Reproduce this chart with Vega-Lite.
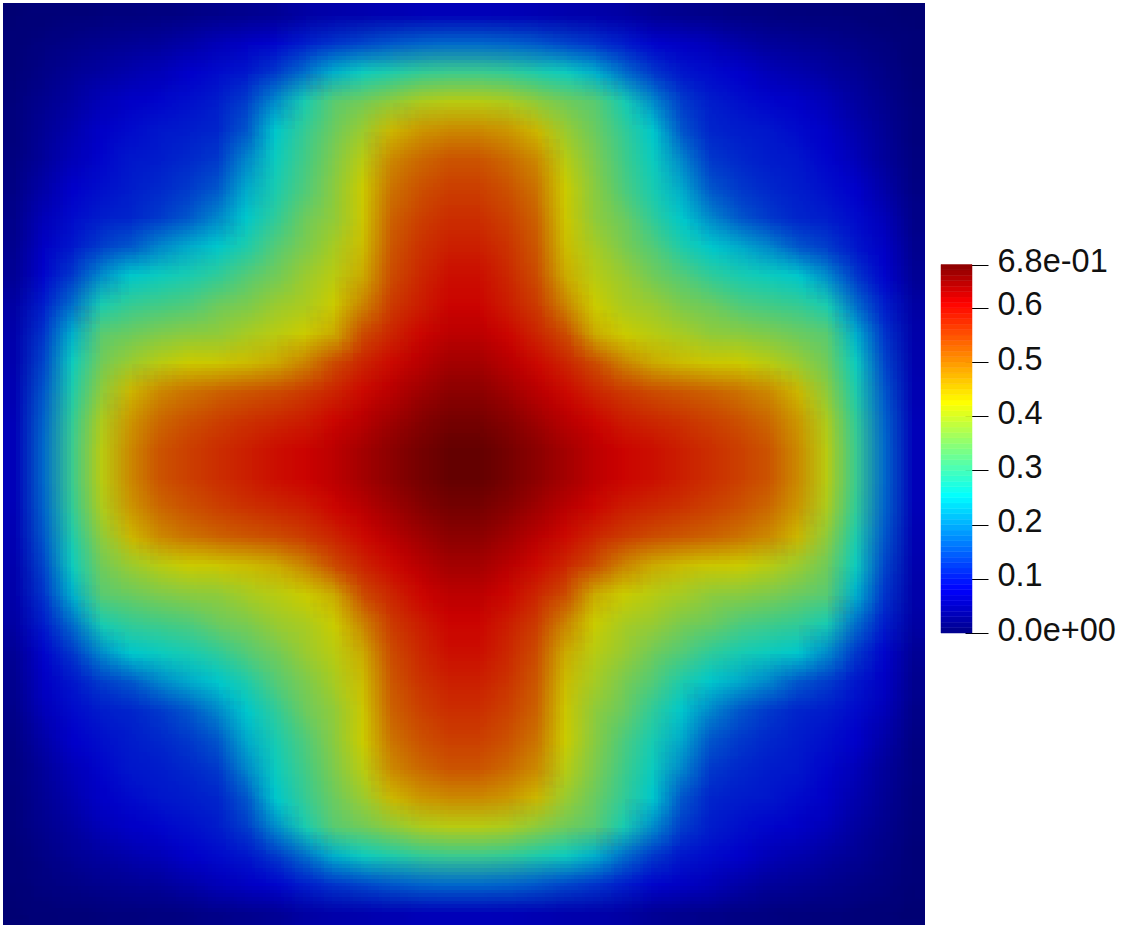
{"$schema":"https://vega.github.io/schema/vega-lite/v6.json","padding":{"left":3,"top":3,"right":0,"bottom":0},"background":"white","config":{"view":{"stroke":null}},"spacing":15,"resolve":{"scale":{"color":"independent","stroke":"independent"}},"hconcat":[{"width":922,"height":922,"data":{"values":[
{"x":1,"y":1,"v":0.002},{"x":2,"y":1,"v":0.004},{"x":3,"y":1,"v":0.006},{"x":4,"y":1,"v":0.008},{"x":5,"y":1,"v":0.01},{"x":6,"y":1,"v":0.012},{"x":7,"y":1,"v":0.015},{"x":8,"y":1,"v":0.02},{"x":9,"y":1,"v":0.025},{"x":10,"y":1,"v":0.03},{"x":11,"y":1,"v":0.042},{"x":12,"y":1,"v":0.048},{"x":13,"y":1,"v":0.05},{"x":14,"y":1,"v":0.055},{"x":15,"y":1,"v":0.058},{"x":16,"y":1,"v":0.06},{"x":17,"y":1,"v":0.06},{"x":18,"y":1,"v":0.058},{"x":19,"y":1,"v":0.055},{"x":20,"y":1,"v":0.05},{"x":21,"y":1,"v":0.048},{"x":22,"y":1,"v":0.042},{"x":23,"y":1,"v":0.03},{"x":24,"y":1,"v":0.025},{"x":25,"y":1,"v":0.02},{"x":26,"y":1,"v":0.015},{"x":27,"y":1,"v":0.012},{"x":28,"y":1,"v":0.01},{"x":29,"y":1,"v":0.008},{"x":30,"y":1,"v":0.006},{"x":31,"y":1,"v":0.004},{"x":32,"y":1,"v":0.002},
{"x":1,"y":2,"v":0.004},{"x":2,"y":2,"v":0.012},{"x":3,"y":2,"v":0.018},{"x":4,"y":2,"v":0.025},{"x":5,"y":2,"v":0.03},{"x":6,"y":2,"v":0.035},{"x":7,"y":2,"v":0.045},{"x":8,"y":2,"v":0.06},{"x":9,"y":2,"v":0.07},{"x":10,"y":2,"v":0.08},{"x":11,"y":2,"v":0.1},{"x":12,"y":2,"v":0.12},{"x":13,"y":2,"v":0.135},{"x":14,"y":2,"v":0.15},{"x":15,"y":2,"v":0.16},{"x":16,"y":2,"v":0.165},{"x":17,"y":2,"v":0.165},{"x":18,"y":2,"v":0.16},{"x":19,"y":2,"v":0.15},{"x":20,"y":2,"v":0.135},{"x":21,"y":2,"v":0.12},{"x":22,"y":2,"v":0.1},{"x":23,"y":2,"v":0.08},{"x":24,"y":2,"v":0.07},{"x":25,"y":2,"v":0.06},{"x":26,"y":2,"v":0.045},{"x":27,"y":2,"v":0.035},{"x":28,"y":2,"v":0.03},{"x":29,"y":2,"v":0.025},{"x":30,"y":2,"v":0.018},{"x":31,"y":2,"v":0.012},{"x":32,"y":2,"v":0.004},
{"x":1,"y":3,"v":0.006},{"x":2,"y":3,"v":0.018},{"x":3,"y":3,"v":0.03},{"x":4,"y":3,"v":0.04},{"x":5,"y":3,"v":0.05},{"x":6,"y":3,"v":0.06},{"x":7,"y":3,"v":0.075},{"x":8,"y":3,"v":0.085},{"x":9,"y":3,"v":0.095},{"x":10,"y":3,"v":0.125},{"x":11,"y":3,"v":0.17},{"x":12,"y":3,"v":0.225},{"x":13,"y":3,"v":0.26},{"x":14,"y":3,"v":0.275},{"x":15,"y":3,"v":0.292},{"x":16,"y":3,"v":0.3},{"x":17,"y":3,"v":0.3},{"x":18,"y":3,"v":0.292},{"x":19,"y":3,"v":0.275},{"x":20,"y":3,"v":0.26},{"x":21,"y":3,"v":0.225},{"x":22,"y":3,"v":0.17},{"x":23,"y":3,"v":0.125},{"x":24,"y":3,"v":0.095},{"x":25,"y":3,"v":0.085},{"x":26,"y":3,"v":0.075},{"x":27,"y":3,"v":0.06},{"x":28,"y":3,"v":0.05},{"x":29,"y":3,"v":0.04},{"x":30,"y":3,"v":0.03},{"x":31,"y":3,"v":0.018},{"x":32,"y":3,"v":0.006},
{"x":1,"y":4,"v":0.008},{"x":2,"y":4,"v":0.025},{"x":3,"y":4,"v":0.04},{"x":4,"y":4,"v":0.06},{"x":5,"y":4,"v":0.072},{"x":6,"y":4,"v":0.08},{"x":7,"y":4,"v":0.09},{"x":8,"y":4,"v":0.1},{"x":9,"y":4,"v":0.128},{"x":10,"y":4,"v":0.195},{"x":11,"y":4,"v":0.27},{"x":12,"y":4,"v":0.325},{"x":13,"y":4,"v":0.345},{"x":14,"y":4,"v":0.37},{"x":15,"y":4,"v":0.395},{"x":16,"y":4,"v":0.405},{"x":17,"y":4,"v":0.405},{"x":18,"y":4,"v":0.395},{"x":19,"y":4,"v":0.37},{"x":20,"y":4,"v":0.345},{"x":21,"y":4,"v":0.325},{"x":22,"y":4,"v":0.27},{"x":23,"y":4,"v":0.195},{"x":24,"y":4,"v":0.128},{"x":25,"y":4,"v":0.1},{"x":26,"y":4,"v":0.09},{"x":27,"y":4,"v":0.08},{"x":28,"y":4,"v":0.072},{"x":29,"y":4,"v":0.06},{"x":30,"y":4,"v":0.04},{"x":31,"y":4,"v":0.025},{"x":32,"y":4,"v":0.008},
{"x":1,"y":5,"v":0.01},{"x":2,"y":5,"v":0.03},{"x":3,"y":5,"v":0.05},{"x":4,"y":5,"v":0.072},{"x":5,"y":5,"v":0.085},{"x":6,"y":5,"v":0.095},{"x":7,"y":5,"v":0.1},{"x":8,"y":5,"v":0.108},{"x":9,"y":5,"v":0.15},{"x":10,"y":5,"v":0.245},{"x":11,"y":5,"v":0.293},{"x":12,"y":5,"v":0.34},{"x":13,"y":5,"v":0.38},{"x":14,"y":5,"v":0.44},{"x":15,"y":5,"v":0.468},{"x":16,"y":5,"v":0.48},{"x":17,"y":5,"v":0.48},{"x":18,"y":5,"v":0.468},{"x":19,"y":5,"v":0.44},{"x":20,"y":5,"v":0.38},{"x":21,"y":5,"v":0.34},{"x":22,"y":5,"v":0.293},{"x":23,"y":5,"v":0.245},{"x":24,"y":5,"v":0.15},{"x":25,"y":5,"v":0.108},{"x":26,"y":5,"v":0.1},{"x":27,"y":5,"v":0.095},{"x":28,"y":5,"v":0.085},{"x":29,"y":5,"v":0.072},{"x":30,"y":5,"v":0.05},{"x":31,"y":5,"v":0.03},{"x":32,"y":5,"v":0.01},
{"x":1,"y":6,"v":0.012},{"x":2,"y":6,"v":0.035},{"x":3,"y":6,"v":0.06},{"x":4,"y":6,"v":0.08},{"x":5,"y":6,"v":0.095},{"x":6,"y":6,"v":0.1},{"x":7,"y":6,"v":0.11},{"x":8,"y":6,"v":0.125},{"x":9,"y":6,"v":0.19},{"x":10,"y":6,"v":0.258},{"x":11,"y":6,"v":0.305},{"x":12,"y":6,"v":0.355},{"x":13,"y":6,"v":0.405},{"x":14,"y":6,"v":0.48},{"x":15,"y":6,"v":0.51},{"x":16,"y":6,"v":0.528},{"x":17,"y":6,"v":0.528},{"x":18,"y":6,"v":0.51},{"x":19,"y":6,"v":0.48},{"x":20,"y":6,"v":0.405},{"x":21,"y":6,"v":0.355},{"x":22,"y":6,"v":0.305},{"x":23,"y":6,"v":0.258},{"x":24,"y":6,"v":0.19},{"x":25,"y":6,"v":0.125},{"x":26,"y":6,"v":0.11},{"x":27,"y":6,"v":0.1},{"x":28,"y":6,"v":0.095},{"x":29,"y":6,"v":0.08},{"x":30,"y":6,"v":0.06},{"x":31,"y":6,"v":0.035},{"x":32,"y":6,"v":0.012},
{"x":1,"y":7,"v":0.015},{"x":2,"y":7,"v":0.045},{"x":3,"y":7,"v":0.075},{"x":4,"y":7,"v":0.09},{"x":5,"y":7,"v":0.1},{"x":6,"y":7,"v":0.11},{"x":7,"y":7,"v":0.125},{"x":8,"y":7,"v":0.15},{"x":9,"y":7,"v":0.22},{"x":10,"y":7,"v":0.27},{"x":11,"y":7,"v":0.316},{"x":12,"y":7,"v":0.365},{"x":13,"y":7,"v":0.42},{"x":14,"y":7,"v":0.5},{"x":15,"y":7,"v":0.53},{"x":16,"y":7,"v":0.547},{"x":17,"y":7,"v":0.547},{"x":18,"y":7,"v":0.53},{"x":19,"y":7,"v":0.5},{"x":20,"y":7,"v":0.42},{"x":21,"y":7,"v":0.365},{"x":22,"y":7,"v":0.316},{"x":23,"y":7,"v":0.27},{"x":24,"y":7,"v":0.22},{"x":25,"y":7,"v":0.15},{"x":26,"y":7,"v":0.125},{"x":27,"y":7,"v":0.11},{"x":28,"y":7,"v":0.1},{"x":29,"y":7,"v":0.09},{"x":30,"y":7,"v":0.075},{"x":31,"y":7,"v":0.045},{"x":32,"y":7,"v":0.015},
{"x":1,"y":8,"v":0.02},{"x":2,"y":8,"v":0.06},{"x":3,"y":8,"v":0.085},{"x":4,"y":8,"v":0.1},{"x":5,"y":8,"v":0.108},{"x":6,"y":8,"v":0.125},{"x":7,"y":8,"v":0.15},{"x":8,"y":8,"v":0.19},{"x":9,"y":8,"v":0.245},{"x":10,"y":8,"v":0.29},{"x":11,"y":8,"v":0.34},{"x":12,"y":8,"v":0.37},{"x":13,"y":8,"v":0.425},{"x":14,"y":8,"v":0.515},{"x":15,"y":8,"v":0.545},{"x":16,"y":8,"v":0.562},{"x":17,"y":8,"v":0.562},{"x":18,"y":8,"v":0.545},{"x":19,"y":8,"v":0.515},{"x":20,"y":8,"v":0.425},{"x":21,"y":8,"v":0.37},{"x":22,"y":8,"v":0.34},{"x":23,"y":8,"v":0.29},{"x":24,"y":8,"v":0.245},{"x":25,"y":8,"v":0.19},{"x":26,"y":8,"v":0.15},{"x":27,"y":8,"v":0.125},{"x":28,"y":8,"v":0.108},{"x":29,"y":8,"v":0.1},{"x":30,"y":8,"v":0.085},{"x":31,"y":8,"v":0.06},{"x":32,"y":8,"v":0.02},
{"x":1,"y":9,"v":0.025},{"x":2,"y":9,"v":0.07},{"x":3,"y":9,"v":0.095},{"x":4,"y":9,"v":0.128},{"x":5,"y":9,"v":0.15},{"x":6,"y":9,"v":0.19},{"x":7,"y":9,"v":0.22},{"x":8,"y":9,"v":0.245},{"x":9,"y":9,"v":0.275},{"x":10,"y":9,"v":0.32},{"x":11,"y":9,"v":0.353},{"x":12,"y":9,"v":0.39},{"x":13,"y":9,"v":0.435},{"x":14,"y":9,"v":0.525},{"x":15,"y":9,"v":0.557},{"x":16,"y":9,"v":0.575},{"x":17,"y":9,"v":0.575},{"x":18,"y":9,"v":0.557},{"x":19,"y":9,"v":0.525},{"x":20,"y":9,"v":0.435},{"x":21,"y":9,"v":0.39},{"x":22,"y":9,"v":0.353},{"x":23,"y":9,"v":0.32},{"x":24,"y":9,"v":0.275},{"x":25,"y":9,"v":0.245},{"x":26,"y":9,"v":0.22},{"x":27,"y":9,"v":0.19},{"x":28,"y":9,"v":0.15},{"x":29,"y":9,"v":0.128},{"x":30,"y":9,"v":0.095},{"x":31,"y":9,"v":0.07},{"x":32,"y":9,"v":0.025},
{"x":1,"y":10,"v":0.03},{"x":2,"y":10,"v":0.08},{"x":3,"y":10,"v":0.125},{"x":4,"y":10,"v":0.195},{"x":5,"y":10,"v":0.245},{"x":6,"y":10,"v":0.258},{"x":7,"y":10,"v":0.27},{"x":8,"y":10,"v":0.29},{"x":9,"y":10,"v":0.32},{"x":10,"y":10,"v":0.345},{"x":11,"y":10,"v":0.378},{"x":12,"y":10,"v":0.405},{"x":13,"y":10,"v":0.45},{"x":14,"y":10,"v":0.535},{"x":15,"y":10,"v":0.568},{"x":16,"y":10,"v":0.59},{"x":17,"y":10,"v":0.59},{"x":18,"y":10,"v":0.568},{"x":19,"y":10,"v":0.535},{"x":20,"y":10,"v":0.45},{"x":21,"y":10,"v":0.405},{"x":22,"y":10,"v":0.378},{"x":23,"y":10,"v":0.345},{"x":24,"y":10,"v":0.32},{"x":25,"y":10,"v":0.29},{"x":26,"y":10,"v":0.27},{"x":27,"y":10,"v":0.258},{"x":28,"y":10,"v":0.245},{"x":29,"y":10,"v":0.195},{"x":30,"y":10,"v":0.125},{"x":31,"y":10,"v":0.08},{"x":32,"y":10,"v":0.03},
{"x":1,"y":11,"v":0.042},{"x":2,"y":11,"v":0.1},{"x":3,"y":11,"v":0.17},{"x":4,"y":11,"v":0.27},{"x":5,"y":11,"v":0.293},{"x":6,"y":11,"v":0.305},{"x":7,"y":11,"v":0.316},{"x":8,"y":11,"v":0.34},{"x":9,"y":11,"v":0.353},{"x":10,"y":11,"v":0.378},{"x":11,"y":11,"v":0.393},{"x":12,"y":11,"v":0.42},{"x":13,"y":11,"v":0.485},{"x":14,"y":11,"v":0.55},{"x":15,"y":11,"v":0.578},{"x":16,"y":11,"v":0.6},{"x":17,"y":11,"v":0.6},{"x":18,"y":11,"v":0.578},{"x":19,"y":11,"v":0.55},{"x":20,"y":11,"v":0.485},{"x":21,"y":11,"v":0.42},{"x":22,"y":11,"v":0.393},{"x":23,"y":11,"v":0.378},{"x":24,"y":11,"v":0.353},{"x":25,"y":11,"v":0.34},{"x":26,"y":11,"v":0.316},{"x":27,"y":11,"v":0.305},{"x":28,"y":11,"v":0.293},{"x":29,"y":11,"v":0.27},{"x":30,"y":11,"v":0.17},{"x":31,"y":11,"v":0.1},{"x":32,"y":11,"v":0.042},
{"x":1,"y":12,"v":0.048},{"x":2,"y":12,"v":0.12},{"x":3,"y":12,"v":0.225},{"x":4,"y":12,"v":0.325},{"x":5,"y":12,"v":0.34},{"x":6,"y":12,"v":0.355},{"x":7,"y":12,"v":0.365},{"x":8,"y":12,"v":0.37},{"x":9,"y":12,"v":0.39},{"x":10,"y":12,"v":0.405},{"x":11,"y":12,"v":0.42},{"x":12,"y":12,"v":0.45},{"x":13,"y":12,"v":0.535},{"x":14,"y":12,"v":0.57},{"x":15,"y":12,"v":0.598},{"x":16,"y":12,"v":0.616},{"x":17,"y":12,"v":0.616},{"x":18,"y":12,"v":0.598},{"x":19,"y":12,"v":0.57},{"x":20,"y":12,"v":0.535},{"x":21,"y":12,"v":0.45},{"x":22,"y":12,"v":0.42},{"x":23,"y":12,"v":0.405},{"x":24,"y":12,"v":0.39},{"x":25,"y":12,"v":0.37},{"x":26,"y":12,"v":0.365},{"x":27,"y":12,"v":0.355},{"x":28,"y":12,"v":0.34},{"x":29,"y":12,"v":0.325},{"x":30,"y":12,"v":0.225},{"x":31,"y":12,"v":0.12},{"x":32,"y":12,"v":0.048},
{"x":1,"y":13,"v":0.05},{"x":2,"y":13,"v":0.135},{"x":3,"y":13,"v":0.26},{"x":4,"y":13,"v":0.345},{"x":5,"y":13,"v":0.38},{"x":6,"y":13,"v":0.405},{"x":7,"y":13,"v":0.42},{"x":8,"y":13,"v":0.425},{"x":9,"y":13,"v":0.435},{"x":10,"y":13,"v":0.45},{"x":11,"y":13,"v":0.485},{"x":12,"y":13,"v":0.535},{"x":13,"y":13,"v":0.57},{"x":14,"y":13,"v":0.595},{"x":15,"y":13,"v":0.617},{"x":16,"y":13,"v":0.633},{"x":17,"y":13,"v":0.633},{"x":18,"y":13,"v":0.617},{"x":19,"y":13,"v":0.595},{"x":20,"y":13,"v":0.57},{"x":21,"y":13,"v":0.535},{"x":22,"y":13,"v":0.485},{"x":23,"y":13,"v":0.45},{"x":24,"y":13,"v":0.435},{"x":25,"y":13,"v":0.425},{"x":26,"y":13,"v":0.42},{"x":27,"y":13,"v":0.405},{"x":28,"y":13,"v":0.38},{"x":29,"y":13,"v":0.345},{"x":30,"y":13,"v":0.26},{"x":31,"y":13,"v":0.135},{"x":32,"y":13,"v":0.05},
{"x":1,"y":14,"v":0.055},{"x":2,"y":14,"v":0.15},{"x":3,"y":14,"v":0.275},{"x":4,"y":14,"v":0.37},{"x":5,"y":14,"v":0.44},{"x":6,"y":14,"v":0.48},{"x":7,"y":14,"v":0.5},{"x":8,"y":14,"v":0.515},{"x":9,"y":14,"v":0.525},{"x":10,"y":14,"v":0.535},{"x":11,"y":14,"v":0.55},{"x":12,"y":14,"v":0.57},{"x":13,"y":14,"v":0.595},{"x":14,"y":14,"v":0.617},{"x":15,"y":14,"v":0.637},{"x":16,"y":14,"v":0.652},{"x":17,"y":14,"v":0.652},{"x":18,"y":14,"v":0.637},{"x":19,"y":14,"v":0.617},{"x":20,"y":14,"v":0.595},{"x":21,"y":14,"v":0.57},{"x":22,"y":14,"v":0.55},{"x":23,"y":14,"v":0.535},{"x":24,"y":14,"v":0.525},{"x":25,"y":14,"v":0.515},{"x":26,"y":14,"v":0.5},{"x":27,"y":14,"v":0.48},{"x":28,"y":14,"v":0.44},{"x":29,"y":14,"v":0.37},{"x":30,"y":14,"v":0.275},{"x":31,"y":14,"v":0.15},{"x":32,"y":14,"v":0.055},
{"x":1,"y":15,"v":0.058},{"x":2,"y":15,"v":0.16},{"x":3,"y":15,"v":0.292},{"x":4,"y":15,"v":0.395},{"x":5,"y":15,"v":0.468},{"x":6,"y":15,"v":0.51},{"x":7,"y":15,"v":0.53},{"x":8,"y":15,"v":0.545},{"x":9,"y":15,"v":0.557},{"x":10,"y":15,"v":0.568},{"x":11,"y":15,"v":0.578},{"x":12,"y":15,"v":0.598},{"x":13,"y":15,"v":0.617},{"x":14,"y":15,"v":0.637},{"x":15,"y":15,"v":0.655},{"x":16,"y":15,"v":0.668},{"x":17,"y":15,"v":0.668},{"x":18,"y":15,"v":0.655},{"x":19,"y":15,"v":0.637},{"x":20,"y":15,"v":0.617},{"x":21,"y":15,"v":0.598},{"x":22,"y":15,"v":0.578},{"x":23,"y":15,"v":0.568},{"x":24,"y":15,"v":0.557},{"x":25,"y":15,"v":0.545},{"x":26,"y":15,"v":0.53},{"x":27,"y":15,"v":0.51},{"x":28,"y":15,"v":0.468},{"x":29,"y":15,"v":0.395},{"x":30,"y":15,"v":0.292},{"x":31,"y":15,"v":0.16},{"x":32,"y":15,"v":0.058},
{"x":1,"y":16,"v":0.06},{"x":2,"y":16,"v":0.165},{"x":3,"y":16,"v":0.3},{"x":4,"y":16,"v":0.405},{"x":5,"y":16,"v":0.48},{"x":6,"y":16,"v":0.528},{"x":7,"y":16,"v":0.547},{"x":8,"y":16,"v":0.562},{"x":9,"y":16,"v":0.575},{"x":10,"y":16,"v":0.59},{"x":11,"y":16,"v":0.6},{"x":12,"y":16,"v":0.616},{"x":13,"y":16,"v":0.633},{"x":14,"y":16,"v":0.652},{"x":15,"y":16,"v":0.668},{"x":16,"y":16,"v":0.68},{"x":17,"y":16,"v":0.68},{"x":18,"y":16,"v":0.668},{"x":19,"y":16,"v":0.652},{"x":20,"y":16,"v":0.633},{"x":21,"y":16,"v":0.616},{"x":22,"y":16,"v":0.6},{"x":23,"y":16,"v":0.59},{"x":24,"y":16,"v":0.575},{"x":25,"y":16,"v":0.562},{"x":26,"y":16,"v":0.547},{"x":27,"y":16,"v":0.528},{"x":28,"y":16,"v":0.48},{"x":29,"y":16,"v":0.405},{"x":30,"y":16,"v":0.3},{"x":31,"y":16,"v":0.165},{"x":32,"y":16,"v":0.06},
{"x":1,"y":17,"v":0.06},{"x":2,"y":17,"v":0.165},{"x":3,"y":17,"v":0.3},{"x":4,"y":17,"v":0.405},{"x":5,"y":17,"v":0.48},{"x":6,"y":17,"v":0.528},{"x":7,"y":17,"v":0.547},{"x":8,"y":17,"v":0.562},{"x":9,"y":17,"v":0.575},{"x":10,"y":17,"v":0.59},{"x":11,"y":17,"v":0.6},{"x":12,"y":17,"v":0.616},{"x":13,"y":17,"v":0.633},{"x":14,"y":17,"v":0.652},{"x":15,"y":17,"v":0.668},{"x":16,"y":17,"v":0.68},{"x":17,"y":17,"v":0.68},{"x":18,"y":17,"v":0.668},{"x":19,"y":17,"v":0.652},{"x":20,"y":17,"v":0.633},{"x":21,"y":17,"v":0.616},{"x":22,"y":17,"v":0.6},{"x":23,"y":17,"v":0.59},{"x":24,"y":17,"v":0.575},{"x":25,"y":17,"v":0.562},{"x":26,"y":17,"v":0.547},{"x":27,"y":17,"v":0.528},{"x":28,"y":17,"v":0.48},{"x":29,"y":17,"v":0.405},{"x":30,"y":17,"v":0.3},{"x":31,"y":17,"v":0.165},{"x":32,"y":17,"v":0.06},
{"x":1,"y":18,"v":0.058},{"x":2,"y":18,"v":0.16},{"x":3,"y":18,"v":0.292},{"x":4,"y":18,"v":0.395},{"x":5,"y":18,"v":0.468},{"x":6,"y":18,"v":0.51},{"x":7,"y":18,"v":0.53},{"x":8,"y":18,"v":0.545},{"x":9,"y":18,"v":0.557},{"x":10,"y":18,"v":0.568},{"x":11,"y":18,"v":0.578},{"x":12,"y":18,"v":0.598},{"x":13,"y":18,"v":0.617},{"x":14,"y":18,"v":0.637},{"x":15,"y":18,"v":0.655},{"x":16,"y":18,"v":0.668},{"x":17,"y":18,"v":0.668},{"x":18,"y":18,"v":0.655},{"x":19,"y":18,"v":0.637},{"x":20,"y":18,"v":0.617},{"x":21,"y":18,"v":0.598},{"x":22,"y":18,"v":0.578},{"x":23,"y":18,"v":0.568},{"x":24,"y":18,"v":0.557},{"x":25,"y":18,"v":0.545},{"x":26,"y":18,"v":0.53},{"x":27,"y":18,"v":0.51},{"x":28,"y":18,"v":0.468},{"x":29,"y":18,"v":0.395},{"x":30,"y":18,"v":0.292},{"x":31,"y":18,"v":0.16},{"x":32,"y":18,"v":0.058},
{"x":1,"y":19,"v":0.055},{"x":2,"y":19,"v":0.15},{"x":3,"y":19,"v":0.275},{"x":4,"y":19,"v":0.37},{"x":5,"y":19,"v":0.44},{"x":6,"y":19,"v":0.48},{"x":7,"y":19,"v":0.5},{"x":8,"y":19,"v":0.515},{"x":9,"y":19,"v":0.525},{"x":10,"y":19,"v":0.535},{"x":11,"y":19,"v":0.55},{"x":12,"y":19,"v":0.57},{"x":13,"y":19,"v":0.595},{"x":14,"y":19,"v":0.617},{"x":15,"y":19,"v":0.637},{"x":16,"y":19,"v":0.652},{"x":17,"y":19,"v":0.652},{"x":18,"y":19,"v":0.637},{"x":19,"y":19,"v":0.617},{"x":20,"y":19,"v":0.595},{"x":21,"y":19,"v":0.57},{"x":22,"y":19,"v":0.55},{"x":23,"y":19,"v":0.535},{"x":24,"y":19,"v":0.525},{"x":25,"y":19,"v":0.515},{"x":26,"y":19,"v":0.5},{"x":27,"y":19,"v":0.48},{"x":28,"y":19,"v":0.44},{"x":29,"y":19,"v":0.37},{"x":30,"y":19,"v":0.275},{"x":31,"y":19,"v":0.15},{"x":32,"y":19,"v":0.055},
{"x":1,"y":20,"v":0.05},{"x":2,"y":20,"v":0.135},{"x":3,"y":20,"v":0.26},{"x":4,"y":20,"v":0.345},{"x":5,"y":20,"v":0.38},{"x":6,"y":20,"v":0.405},{"x":7,"y":20,"v":0.42},{"x":8,"y":20,"v":0.425},{"x":9,"y":20,"v":0.435},{"x":10,"y":20,"v":0.45},{"x":11,"y":20,"v":0.485},{"x":12,"y":20,"v":0.535},{"x":13,"y":20,"v":0.57},{"x":14,"y":20,"v":0.595},{"x":15,"y":20,"v":0.617},{"x":16,"y":20,"v":0.633},{"x":17,"y":20,"v":0.633},{"x":18,"y":20,"v":0.617},{"x":19,"y":20,"v":0.595},{"x":20,"y":20,"v":0.57},{"x":21,"y":20,"v":0.535},{"x":22,"y":20,"v":0.485},{"x":23,"y":20,"v":0.45},{"x":24,"y":20,"v":0.435},{"x":25,"y":20,"v":0.425},{"x":26,"y":20,"v":0.42},{"x":27,"y":20,"v":0.405},{"x":28,"y":20,"v":0.38},{"x":29,"y":20,"v":0.345},{"x":30,"y":20,"v":0.26},{"x":31,"y":20,"v":0.135},{"x":32,"y":20,"v":0.05},
{"x":1,"y":21,"v":0.048},{"x":2,"y":21,"v":0.12},{"x":3,"y":21,"v":0.225},{"x":4,"y":21,"v":0.325},{"x":5,"y":21,"v":0.34},{"x":6,"y":21,"v":0.355},{"x":7,"y":21,"v":0.365},{"x":8,"y":21,"v":0.37},{"x":9,"y":21,"v":0.39},{"x":10,"y":21,"v":0.405},{"x":11,"y":21,"v":0.42},{"x":12,"y":21,"v":0.45},{"x":13,"y":21,"v":0.535},{"x":14,"y":21,"v":0.57},{"x":15,"y":21,"v":0.598},{"x":16,"y":21,"v":0.616},{"x":17,"y":21,"v":0.616},{"x":18,"y":21,"v":0.598},{"x":19,"y":21,"v":0.57},{"x":20,"y":21,"v":0.535},{"x":21,"y":21,"v":0.45},{"x":22,"y":21,"v":0.42},{"x":23,"y":21,"v":0.405},{"x":24,"y":21,"v":0.39},{"x":25,"y":21,"v":0.37},{"x":26,"y":21,"v":0.365},{"x":27,"y":21,"v":0.355},{"x":28,"y":21,"v":0.34},{"x":29,"y":21,"v":0.325},{"x":30,"y":21,"v":0.225},{"x":31,"y":21,"v":0.12},{"x":32,"y":21,"v":0.048},
{"x":1,"y":22,"v":0.042},{"x":2,"y":22,"v":0.1},{"x":3,"y":22,"v":0.17},{"x":4,"y":22,"v":0.27},{"x":5,"y":22,"v":0.293},{"x":6,"y":22,"v":0.305},{"x":7,"y":22,"v":0.316},{"x":8,"y":22,"v":0.34},{"x":9,"y":22,"v":0.353},{"x":10,"y":22,"v":0.378},{"x":11,"y":22,"v":0.393},{"x":12,"y":22,"v":0.42},{"x":13,"y":22,"v":0.485},{"x":14,"y":22,"v":0.55},{"x":15,"y":22,"v":0.578},{"x":16,"y":22,"v":0.6},{"x":17,"y":22,"v":0.6},{"x":18,"y":22,"v":0.578},{"x":19,"y":22,"v":0.55},{"x":20,"y":22,"v":0.485},{"x":21,"y":22,"v":0.42},{"x":22,"y":22,"v":0.393},{"x":23,"y":22,"v":0.378},{"x":24,"y":22,"v":0.353},{"x":25,"y":22,"v":0.34},{"x":26,"y":22,"v":0.316},{"x":27,"y":22,"v":0.305},{"x":28,"y":22,"v":0.293},{"x":29,"y":22,"v":0.27},{"x":30,"y":22,"v":0.17},{"x":31,"y":22,"v":0.1},{"x":32,"y":22,"v":0.042},
{"x":1,"y":23,"v":0.03},{"x":2,"y":23,"v":0.08},{"x":3,"y":23,"v":0.125},{"x":4,"y":23,"v":0.195},{"x":5,"y":23,"v":0.245},{"x":6,"y":23,"v":0.258},{"x":7,"y":23,"v":0.27},{"x":8,"y":23,"v":0.29},{"x":9,"y":23,"v":0.32},{"x":10,"y":23,"v":0.345},{"x":11,"y":23,"v":0.378},{"x":12,"y":23,"v":0.405},{"x":13,"y":23,"v":0.45},{"x":14,"y":23,"v":0.535},{"x":15,"y":23,"v":0.568},{"x":16,"y":23,"v":0.59},{"x":17,"y":23,"v":0.59},{"x":18,"y":23,"v":0.568},{"x":19,"y":23,"v":0.535},{"x":20,"y":23,"v":0.45},{"x":21,"y":23,"v":0.405},{"x":22,"y":23,"v":0.378},{"x":23,"y":23,"v":0.345},{"x":24,"y":23,"v":0.32},{"x":25,"y":23,"v":0.29},{"x":26,"y":23,"v":0.27},{"x":27,"y":23,"v":0.258},{"x":28,"y":23,"v":0.245},{"x":29,"y":23,"v":0.195},{"x":30,"y":23,"v":0.125},{"x":31,"y":23,"v":0.08},{"x":32,"y":23,"v":0.03},
{"x":1,"y":24,"v":0.025},{"x":2,"y":24,"v":0.07},{"x":3,"y":24,"v":0.095},{"x":4,"y":24,"v":0.128},{"x":5,"y":24,"v":0.15},{"x":6,"y":24,"v":0.19},{"x":7,"y":24,"v":0.22},{"x":8,"y":24,"v":0.245},{"x":9,"y":24,"v":0.275},{"x":10,"y":24,"v":0.32},{"x":11,"y":24,"v":0.353},{"x":12,"y":24,"v":0.39},{"x":13,"y":24,"v":0.435},{"x":14,"y":24,"v":0.525},{"x":15,"y":24,"v":0.557},{"x":16,"y":24,"v":0.575},{"x":17,"y":24,"v":0.575},{"x":18,"y":24,"v":0.557},{"x":19,"y":24,"v":0.525},{"x":20,"y":24,"v":0.435},{"x":21,"y":24,"v":0.39},{"x":22,"y":24,"v":0.353},{"x":23,"y":24,"v":0.32},{"x":24,"y":24,"v":0.275},{"x":25,"y":24,"v":0.245},{"x":26,"y":24,"v":0.22},{"x":27,"y":24,"v":0.19},{"x":28,"y":24,"v":0.15},{"x":29,"y":24,"v":0.128},{"x":30,"y":24,"v":0.095},{"x":31,"y":24,"v":0.07},{"x":32,"y":24,"v":0.025},
{"x":1,"y":25,"v":0.02},{"x":2,"y":25,"v":0.06},{"x":3,"y":25,"v":0.085},{"x":4,"y":25,"v":0.1},{"x":5,"y":25,"v":0.108},{"x":6,"y":25,"v":0.125},{"x":7,"y":25,"v":0.15},{"x":8,"y":25,"v":0.19},{"x":9,"y":25,"v":0.245},{"x":10,"y":25,"v":0.29},{"x":11,"y":25,"v":0.34},{"x":12,"y":25,"v":0.37},{"x":13,"y":25,"v":0.425},{"x":14,"y":25,"v":0.515},{"x":15,"y":25,"v":0.545},{"x":16,"y":25,"v":0.562},{"x":17,"y":25,"v":0.562},{"x":18,"y":25,"v":0.545},{"x":19,"y":25,"v":0.515},{"x":20,"y":25,"v":0.425},{"x":21,"y":25,"v":0.37},{"x":22,"y":25,"v":0.34},{"x":23,"y":25,"v":0.29},{"x":24,"y":25,"v":0.245},{"x":25,"y":25,"v":0.19},{"x":26,"y":25,"v":0.15},{"x":27,"y":25,"v":0.125},{"x":28,"y":25,"v":0.108},{"x":29,"y":25,"v":0.1},{"x":30,"y":25,"v":0.085},{"x":31,"y":25,"v":0.06},{"x":32,"y":25,"v":0.02},
{"x":1,"y":26,"v":0.015},{"x":2,"y":26,"v":0.045},{"x":3,"y":26,"v":0.075},{"x":4,"y":26,"v":0.09},{"x":5,"y":26,"v":0.1},{"x":6,"y":26,"v":0.11},{"x":7,"y":26,"v":0.125},{"x":8,"y":26,"v":0.15},{"x":9,"y":26,"v":0.22},{"x":10,"y":26,"v":0.27},{"x":11,"y":26,"v":0.316},{"x":12,"y":26,"v":0.365},{"x":13,"y":26,"v":0.42},{"x":14,"y":26,"v":0.5},{"x":15,"y":26,"v":0.53},{"x":16,"y":26,"v":0.547},{"x":17,"y":26,"v":0.547},{"x":18,"y":26,"v":0.53},{"x":19,"y":26,"v":0.5},{"x":20,"y":26,"v":0.42},{"x":21,"y":26,"v":0.365},{"x":22,"y":26,"v":0.316},{"x":23,"y":26,"v":0.27},{"x":24,"y":26,"v":0.22},{"x":25,"y":26,"v":0.15},{"x":26,"y":26,"v":0.125},{"x":27,"y":26,"v":0.11},{"x":28,"y":26,"v":0.1},{"x":29,"y":26,"v":0.09},{"x":30,"y":26,"v":0.075},{"x":31,"y":26,"v":0.045},{"x":32,"y":26,"v":0.015},
{"x":1,"y":27,"v":0.012},{"x":2,"y":27,"v":0.035},{"x":3,"y":27,"v":0.06},{"x":4,"y":27,"v":0.08},{"x":5,"y":27,"v":0.095},{"x":6,"y":27,"v":0.1},{"x":7,"y":27,"v":0.11},{"x":8,"y":27,"v":0.125},{"x":9,"y":27,"v":0.19},{"x":10,"y":27,"v":0.258},{"x":11,"y":27,"v":0.305},{"x":12,"y":27,"v":0.355},{"x":13,"y":27,"v":0.405},{"x":14,"y":27,"v":0.48},{"x":15,"y":27,"v":0.51},{"x":16,"y":27,"v":0.528},{"x":17,"y":27,"v":0.528},{"x":18,"y":27,"v":0.51},{"x":19,"y":27,"v":0.48},{"x":20,"y":27,"v":0.405},{"x":21,"y":27,"v":0.355},{"x":22,"y":27,"v":0.305},{"x":23,"y":27,"v":0.258},{"x":24,"y":27,"v":0.19},{"x":25,"y":27,"v":0.125},{"x":26,"y":27,"v":0.11},{"x":27,"y":27,"v":0.1},{"x":28,"y":27,"v":0.095},{"x":29,"y":27,"v":0.08},{"x":30,"y":27,"v":0.06},{"x":31,"y":27,"v":0.035},{"x":32,"y":27,"v":0.012},
{"x":1,"y":28,"v":0.01},{"x":2,"y":28,"v":0.03},{"x":3,"y":28,"v":0.05},{"x":4,"y":28,"v":0.072},{"x":5,"y":28,"v":0.085},{"x":6,"y":28,"v":0.095},{"x":7,"y":28,"v":0.1},{"x":8,"y":28,"v":0.108},{"x":9,"y":28,"v":0.15},{"x":10,"y":28,"v":0.245},{"x":11,"y":28,"v":0.293},{"x":12,"y":28,"v":0.34},{"x":13,"y":28,"v":0.38},{"x":14,"y":28,"v":0.44},{"x":15,"y":28,"v":0.468},{"x":16,"y":28,"v":0.48},{"x":17,"y":28,"v":0.48},{"x":18,"y":28,"v":0.468},{"x":19,"y":28,"v":0.44},{"x":20,"y":28,"v":0.38},{"x":21,"y":28,"v":0.34},{"x":22,"y":28,"v":0.293},{"x":23,"y":28,"v":0.245},{"x":24,"y":28,"v":0.15},{"x":25,"y":28,"v":0.108},{"x":26,"y":28,"v":0.1},{"x":27,"y":28,"v":0.095},{"x":28,"y":28,"v":0.085},{"x":29,"y":28,"v":0.072},{"x":30,"y":28,"v":0.05},{"x":31,"y":28,"v":0.03},{"x":32,"y":28,"v":0.01},
{"x":1,"y":29,"v":0.008},{"x":2,"y":29,"v":0.025},{"x":3,"y":29,"v":0.04},{"x":4,"y":29,"v":0.06},{"x":5,"y":29,"v":0.072},{"x":6,"y":29,"v":0.08},{"x":7,"y":29,"v":0.09},{"x":8,"y":29,"v":0.1},{"x":9,"y":29,"v":0.128},{"x":10,"y":29,"v":0.195},{"x":11,"y":29,"v":0.27},{"x":12,"y":29,"v":0.325},{"x":13,"y":29,"v":0.345},{"x":14,"y":29,"v":0.37},{"x":15,"y":29,"v":0.395},{"x":16,"y":29,"v":0.405},{"x":17,"y":29,"v":0.405},{"x":18,"y":29,"v":0.395},{"x":19,"y":29,"v":0.37},{"x":20,"y":29,"v":0.345},{"x":21,"y":29,"v":0.325},{"x":22,"y":29,"v":0.27},{"x":23,"y":29,"v":0.195},{"x":24,"y":29,"v":0.128},{"x":25,"y":29,"v":0.1},{"x":26,"y":29,"v":0.09},{"x":27,"y":29,"v":0.08},{"x":28,"y":29,"v":0.072},{"x":29,"y":29,"v":0.06},{"x":30,"y":29,"v":0.04},{"x":31,"y":29,"v":0.025},{"x":32,"y":29,"v":0.008},
{"x":1,"y":30,"v":0.006},{"x":2,"y":30,"v":0.018},{"x":3,"y":30,"v":0.03},{"x":4,"y":30,"v":0.04},{"x":5,"y":30,"v":0.05},{"x":6,"y":30,"v":0.06},{"x":7,"y":30,"v":0.075},{"x":8,"y":30,"v":0.085},{"x":9,"y":30,"v":0.095},{"x":10,"y":30,"v":0.125},{"x":11,"y":30,"v":0.17},{"x":12,"y":30,"v":0.225},{"x":13,"y":30,"v":0.26},{"x":14,"y":30,"v":0.275},{"x":15,"y":30,"v":0.292},{"x":16,"y":30,"v":0.3},{"x":17,"y":30,"v":0.3},{"x":18,"y":30,"v":0.292},{"x":19,"y":30,"v":0.275},{"x":20,"y":30,"v":0.26},{"x":21,"y":30,"v":0.225},{"x":22,"y":30,"v":0.17},{"x":23,"y":30,"v":0.125},{"x":24,"y":30,"v":0.095},{"x":25,"y":30,"v":0.085},{"x":26,"y":30,"v":0.075},{"x":27,"y":30,"v":0.06},{"x":28,"y":30,"v":0.05},{"x":29,"y":30,"v":0.04},{"x":30,"y":30,"v":0.03},{"x":31,"y":30,"v":0.018},{"x":32,"y":30,"v":0.006},
{"x":1,"y":31,"v":0.004},{"x":2,"y":31,"v":0.012},{"x":3,"y":31,"v":0.018},{"x":4,"y":31,"v":0.025},{"x":5,"y":31,"v":0.03},{"x":6,"y":31,"v":0.035},{"x":7,"y":31,"v":0.045},{"x":8,"y":31,"v":0.06},{"x":9,"y":31,"v":0.07},{"x":10,"y":31,"v":0.08},{"x":11,"y":31,"v":0.1},{"x":12,"y":31,"v":0.12},{"x":13,"y":31,"v":0.135},{"x":14,"y":31,"v":0.15},{"x":15,"y":31,"v":0.16},{"x":16,"y":31,"v":0.165},{"x":17,"y":31,"v":0.165},{"x":18,"y":31,"v":0.16},{"x":19,"y":31,"v":0.15},{"x":20,"y":31,"v":0.135},{"x":21,"y":31,"v":0.12},{"x":22,"y":31,"v":0.1},{"x":23,"y":31,"v":0.08},{"x":24,"y":31,"v":0.07},{"x":25,"y":31,"v":0.06},{"x":26,"y":31,"v":0.045},{"x":27,"y":31,"v":0.035},{"x":28,"y":31,"v":0.03},{"x":29,"y":31,"v":0.025},{"x":30,"y":31,"v":0.018},{"x":31,"y":31,"v":0.012},{"x":32,"y":31,"v":0.004},
{"x":1,"y":32,"v":0.002},{"x":2,"y":32,"v":0.004},{"x":3,"y":32,"v":0.006},{"x":4,"y":32,"v":0.008},{"x":5,"y":32,"v":0.01},{"x":6,"y":32,"v":0.012},{"x":7,"y":32,"v":0.015},{"x":8,"y":32,"v":0.02},{"x":9,"y":32,"v":0.025},{"x":10,"y":32,"v":0.03},{"x":11,"y":32,"v":0.042},{"x":12,"y":32,"v":0.048},{"x":13,"y":32,"v":0.05},{"x":14,"y":32,"v":0.055},{"x":15,"y":32,"v":0.058},{"x":16,"y":32,"v":0.06},{"x":17,"y":32,"v":0.06},{"x":18,"y":32,"v":0.058},{"x":19,"y":32,"v":0.055},{"x":20,"y":32,"v":0.05},{"x":21,"y":32,"v":0.048},{"x":22,"y":32,"v":0.042},{"x":23,"y":32,"v":0.03},{"x":24,"y":32,"v":0.025},{"x":25,"y":32,"v":0.02},{"x":26,"y":32,"v":0.015},{"x":27,"y":32,"v":0.012},{"x":28,"y":32,"v":0.01},{"x":29,"y":32,"v":0.008},{"x":30,"y":32,"v":0.006},{"x":31,"y":32,"v":0.004},{"x":32,"y":32,"v":0.002}
]},"encoding":{"x":{"field":"x","type":"ordinal","axis":null,"scale":{"range":[-3,925],"paddingInner":0,"paddingOuter":0}},"y":{"field":"y","type":"ordinal","axis":null,"scale":{"range":[-3,925],"paddingInner":0,"paddingOuter":0}},"color":{"field":"v","type":"quantitative","legend":null,"scale":{"domain":[0,0.0756,0.248,0.335,0.421,0.604,0.68],"range":["#000073","#0000cc","#00cccc","#66cc66","#cccc00","#cc0000","#660000"],"interpolate":"rgb"}}},"layer":[{"mark":{"type":"rect","clip":true}},{"mark":{"type":"rect","clip":true,"xOffset":-13,"yOffset":-13,"opacity":1}},{"mark":{"type":"rect","clip":true,"xOffset":-9,"yOffset":-2,"opacity":0.5}},{"mark":{"type":"rect","clip":true,"xOffset":-6,"yOffset":9,"opacity":0.3333}},{"mark":{"type":"rect","clip":true,"xOffset":-2,"yOffset":-9,"opacity":0.25}},{"mark":{"type":"rect","clip":true,"xOffset":2,"yOffset":2,"opacity":0.2}},{"mark":{"type":"rect","clip":true,"xOffset":5,"yOffset":13,"opacity":0.1667}},{"mark":{"type":"rect","clip":true,"xOffset":9,"yOffset":-6,"opacity":0.1429}},{"mark":{"type":"rect","clip":true,"xOffset":13,"yOffset":5,"opacity":0.125}}]},
{"width":31,"height":922,"data":{"values":[{"a":0,"b":0.01},{"a":0.01,"b":0.02},{"a":0.02,"b":0.03},{"a":0.03,"b":0.04},{"a":0.04,"b":0.05},{"a":0.05,"b":0.06},{"a":0.06,"b":0.07},{"a":0.07,"b":0.08},{"a":0.08,"b":0.09},{"a":0.09,"b":0.1},{"a":0.1,"b":0.11},{"a":0.11,"b":0.12},{"a":0.12,"b":0.13},{"a":0.13,"b":0.14},{"a":0.14,"b":0.15},{"a":0.15,"b":0.16},{"a":0.16,"b":0.17},{"a":0.17,"b":0.18},{"a":0.18,"b":0.19},{"a":0.19,"b":0.2},{"a":0.2,"b":0.21},{"a":0.21,"b":0.22},{"a":0.22,"b":0.23},{"a":0.23,"b":0.24},{"a":0.24,"b":0.25},{"a":0.25,"b":0.26},{"a":0.26,"b":0.27},{"a":0.27,"b":0.28},{"a":0.28,"b":0.29},{"a":0.29,"b":0.3},{"a":0.3,"b":0.31},{"a":0.31,"b":0.32},{"a":0.32,"b":0.33},{"a":0.33,"b":0.34},{"a":0.34,"b":0.35},{"a":0.35,"b":0.36},{"a":0.36,"b":0.37},{"a":0.37,"b":0.38},{"a":0.38,"b":0.39},{"a":0.39,"b":0.4},{"a":0.4,"b":0.41},{"a":0.41,"b":0.42},{"a":0.42,"b":0.43},{"a":0.43,"b":0.44},{"a":0.44,"b":0.45},{"a":0.45,"b":0.46},{"a":0.46,"b":0.47},{"a":0.47,"b":0.48},{"a":0.48,"b":0.49},{"a":0.49,"b":0.5},{"a":0.5,"b":0.51},{"a":0.51,"b":0.52},{"a":0.52,"b":0.53},{"a":0.53,"b":0.54},{"a":0.54,"b":0.55},{"a":0.55,"b":0.56},{"a":0.56,"b":0.57},{"a":0.57,"b":0.58},{"a":0.58,"b":0.59},{"a":0.59,"b":0.6},{"a":0.6,"b":0.61},{"a":0.61,"b":0.62},{"a":0.62,"b":0.63},{"a":0.63,"b":0.64},{"a":0.64,"b":0.65},{"a":0.65,"b":0.66},{"a":0.66,"b":0.67},{"a":0.67,"b":0.68}]},"mark":{"type":"rect","strokeWidth":0.5},"encoding":{"y":{"field":"a","type":"quantitative","scale":{"domain":[-0.5388,1.1626],"nice":false,"zero":false},"axis":{"orient":"right","title":null,"grid":false,"domain":false,"offset":-7,"tickSize":23,"tickWidth":1,"tickColor":"#000000","labelPadding":9,"labelOffset":-3,"labelFont":"Liberation Sans","labelFontSize":32.5,"labelColor":"#111111","labelOverlap":false,"labelBound":false,"labelFlush":false,"values":[0,0.1,0.2,0.3,0.4,0.5,0.6,0.68],"labelExpr":"datum.value==0.68?'6.8e-01':(datum.value==0?'0.0e+00':format(datum.value,'.1f'))"}},"y2":{"field":"b"},"color":{"field":"a","type":"quantitative","legend":null,"scale":{"domain":[0,0.0756,0.248,0.335,0.421,0.604,0.68],"range":["#000090","#0000ff","#00ffff","#80ff80","#ffff00","#ff0000","#800000"],"interpolate":"rgb"}},"stroke":{"field":"a","type":"quantitative","legend":null,"scale":{"domain":[0,0.0756,0.248,0.335,0.421,0.604,0.68],"range":["#000090","#0000ff","#00ffff","#80ff80","#ffff00","#ff0000","#800000"],"interpolate":"rgb"}}}}]}
